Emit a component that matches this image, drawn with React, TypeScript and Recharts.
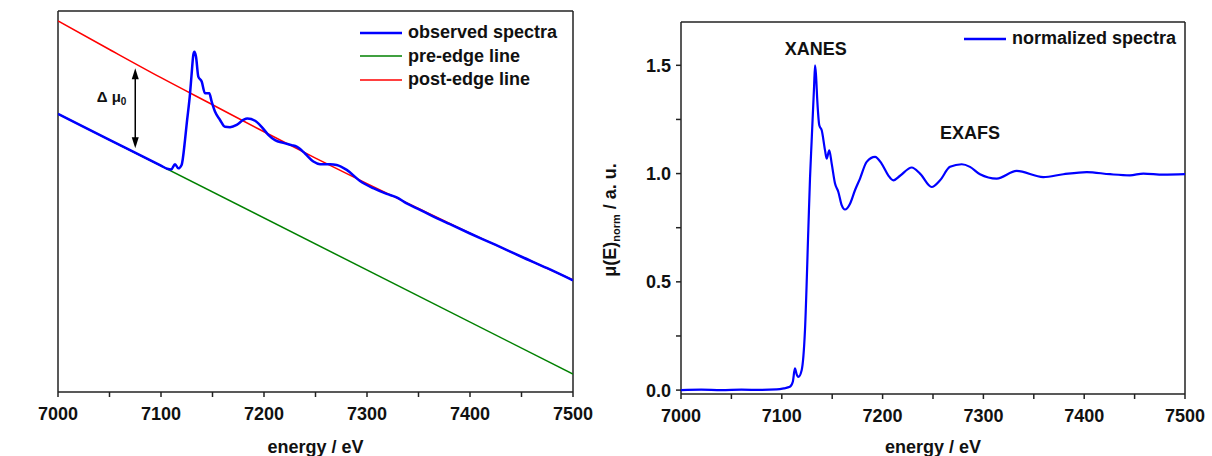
import React from 'react';
import {
  LineChart,
  Line,
  XAxis,
  YAxis,
  Legend,
  Label,
  ReferenceLine,
  ReferenceDot
} from 'recharts';

const FONT = '"Liberation Sans", Arial, Helvetica, sans-serif';
const INK = '#111';
const AXIS = '#222';

// left panel: raw spectrum with pre-/post-edge fits (arbitrary units)
const observedEnergy = [
  7000, 7050, 7100, 7106, 7110, 7113.6, 7116.8, 7120, 7123.3, 7125, 7128.2, 7129.6, 7131.4,
  7132.4, 7134, 7136.2, 7139.5, 7142.7, 7146.9, 7149.2, 7152.4, 7157.3, 7162.1, 7167,
  7173.5, 7179.9, 7183.8, 7191.3, 7197.7, 7204.2, 7210.7, 7218.8, 7226.9, 7231.7, 7239.8,
  7247.9, 7254.4, 7264.1, 7270.6, 7280.3, 7293.2, 7306.1, 7319.1, 7328.8, 7338.5, 7351.5,
  7361.2, 7380, 7400, 7425, 7450, 7475, 7500
];
const observedMu = [
  0.730, 0.662, 0.594, 0.586, 0.584, 0.598, 0.587, 0.596, 0.661, 0.705, 0.784, 0.830, 0.885,
  0.893, 0.880, 0.828, 0.815, 0.784, 0.784, 0.762, 0.736, 0.714, 0.696, 0.695,
  0.701, 0.714, 0.718, 0.712, 0.696, 0.675, 0.661, 0.654, 0.648, 0.644, 0.626,
  0.605, 0.598, 0.598, 0.596, 0.583, 0.554, 0.535, 0.520, 0.511, 0.495, 0.478,
  0.465, 0.441, 0.416, 0.386, 0.355, 0.325, 0.293
];
const preEdgeEnergy = [7000, 7500];
const preEdgeMu = [0.730, 0.047];
const postEdgeEnergy = [7000, 7050, 7100, 7150, 7200, 7250, 7300, 7350, 7400, 7450, 7500];
const postEdgeMu = [0.974, 0.899, 0.825, 0.754, 0.683, 0.614, 0.547, 0.482, 0.417, 0.355, 0.294];

// edge-step arrow
const stepEnergy = 7075;
const stepLow = 0.64;
const stepHigh = 0.85;

// right panel: normalized spectrum
const normEnergy = [
  7000, 7020, 7040, 7060, 7080, 7095, 7102, 7108, 7111, 7113, 7115, 7116.4, 7119.7, 7123,
  7126.3, 7128, 7129.6, 7132, 7133, 7134, 7135.2, 7137.2, 7139.6, 7142.9, 7144.5, 7147.1,
  7149.5, 7152.8, 7156.1, 7159.4, 7162.7, 7167.7, 7172.6, 7177.6, 7184.2, 7192.5, 7199,
  7205.6, 7210.7, 7217.3, 7228.9, 7237.1, 7248.7, 7257, 7266.9, 7278.5, 7286.7, 7296.6,
  7313.2, 7333, 7359.4, 7379.3, 7402.5, 7425.6, 7445.4, 7458.7, 7478.6, 7500
];
const normMu = [
  0.000, 0.002, 0.000, 0.002, 0.001, 0.003, 0.008, 0.015, 0.040, 0.100, 0.070, 0.061, 0.092, 0.277,
  0.738, 0.980, 1.150, 1.400, 1.500, 1.450, 1.338, 1.223, 1.200, 1.107, 1.069, 1.107,
  1.046, 0.954, 0.915, 0.854, 0.834, 0.861, 0.923, 0.977, 1.054, 1.077, 1.046,
  0.992, 0.969, 0.990, 1.028, 1.000, 0.938, 0.969, 1.031, 1.043, 1.031, 0.997,
  0.977, 1.012, 0.984, 0.997, 1.007, 0.997, 0.992, 1.000, 0.995, 0.997
];

const energyDomain = [7000, 7500];
const rawDomain = [0, 1];
const normDomain = [-0.018, 1.7];
const energyTicks = [7000, 7050, 7100, 7150, 7200, 7250, 7300, 7350, 7400, 7450, 7500];
const normTicks = [0, 0.25, 0.5, 0.75, 1, 1.25, 1.5];

const leftLegend = [
  { name: 'observed spectra', color: '#0000ff', width: 2.5 },
  { name: 'pre-edge line', color: '#008000', width: 1.5 },
  { name: 'post-edge line', color: '#ff0000', width: 1.5 }
];
const rightLegend = [{ name: 'normalized spectra', color: '#0000ff', width: 2.5 }];

const toRows = (xs: number[], ys: number[]) => xs.map((e, i) => ({ e, mu: ys[i] }));

const observedRows = toRows(observedEnergy, observedMu);
const preEdgeRows = toRows(preEdgeEnergy, preEdgeMu);
const postEdgeRows = toRows(postEdgeEnergy, postEdgeMu);
const normRows = toRows(normEnergy, normMu);

const textStyle = { fontFamily: FONT, fontWeight: 'bold', fill: INK } as const;

const TICK_LEN = 5;
const TICK_GAP_X = 10;
const TICK_GAP_Y = 5;

const energyFmt = (v: number) => (v % 100 === 0 ? String(v) : '');
const normFmt = (v: number) => ((v * 2) % 1 === 0 ? v.toFixed(1) : '');

// tick mark + label drawn together (x,y arrive at the label anchor)
const EnergyTick = ({ x, y, payload }: any) => (
  <g>
    <line x1={x} y1={y - TICK_GAP_X - TICK_LEN} x2={x} y2={y - TICK_GAP_X} stroke={AXIS} strokeWidth={1.5} />
    <text x={x} y={y} dy="0.72em" textAnchor="middle" fontSize={18} style={textStyle}>
      {energyFmt(payload.value)}
    </text>
  </g>
);

const NormTick = ({ x, y, payload }: any) => (
  <g>
    <line x1={x + TICK_GAP_Y} y1={y} x2={x + TICK_GAP_Y + TICK_LEN} y2={y} stroke={AXIS} strokeWidth={1.5} />
    <text x={x} y={y} dy="0.36em" textAnchor="end" fontSize={18} style={textStyle}>
      {normFmt(payload.value)}
    </text>
  </g>
);

const LegendBox = ({ items }: { items: typeof leftLegend }) => (
  <div style={{ fontFamily: FONT, fontWeight: 'bold', fontSize: 18, lineHeight: '23.5px', color: INK }}>
    {items.map((it) => (
      <div key={it.name} style={{ display: 'flex', alignItems: 'center', whiteSpace: 'nowrap' }}>
        <svg width={42} height={4} style={{ marginRight: 6 }}>
          <line x1={0} y1={2} x2={42} y2={2} stroke={it.color} strokeWidth={it.width} />
        </svg>
        <span>{it.name}</span>
      </div>
    ))}
  </div>
);

const XTitle = ({ viewBox }: any) => (
  <text
    x={viewBox.x + viewBox.width / 2}
    y={viewBox.y + viewBox.height - 3}
    textAnchor="middle"
    fontSize={18}
    style={textStyle}
  >
    energy / eV
  </text>
);

// rotated y title, bx = baseline x inside the chart svg
const YTitle = ({ viewBox, bx, shift, sub }: any) => {
  const cy = viewBox.y + viewBox.height / 2 + shift;
  return (
    <text
      x={bx}
      y={cy}
      textAnchor="middle"
      fontSize={18}
      transform={`rotate(-90 ${bx} ${cy})`}
      style={textStyle}
    >
      μ(E)
      {sub ? (
        <>
          <tspan fontSize={11} dy={4}>{sub}</tspan>
          <tspan dy={-4}> / a. u.</tspan>
        </>
      ) : (
        ' / a. u.'
      )}
    </text>
  );
};

const StepArrow = ({ x1, y1, y2 }: any) => {
  const top = Math.min(y1, y2);
  const bot = Math.max(y1, y2);
  return (
    <g>
      <line x1={x1} y1={top + 8} x2={x1} y2={bot - 8} stroke="#000" strokeWidth={1.5} />
      <polygon points={`${x1},${top} ${x1 - 3.5},${top + 11} ${x1 + 3.5},${top + 11}`} fill="#000" />
      <polygon points={`${x1},${bot} ${x1 - 3.5},${bot - 11} ${x1 + 3.5},${bot - 11}`} fill="#000" />
    </g>
  );
};

// box around the plot area
const frame = (yDomain: number[]) => [
  <ReferenceLine key="fl" x={energyDomain[0]} stroke={AXIS} strokeWidth={1.5} ifOverflow="visible" />,
  <ReferenceLine key="fr" x={energyDomain[1]} stroke={AXIS} strokeWidth={1.5} ifOverflow="visible" />,
  <ReferenceLine key="fb" y={yDomain[0]} stroke={AXIS} strokeWidth={1.5} ifOverflow="visible" />,
  <ReferenceLine key="ft" y={yDomain[1]} stroke={AXIS} strokeWidth={1.5} ifOverflow="visible" />
];

export default function App() {
  return (
    <div style={{ position: 'absolute', left: 0, top: 0, width: 1212, height: 456, background: '#fff' }}>
      <div style={{ position: 'absolute', left: 0, top: 0 }}>
        <LineChart width={600} height={456} margin={{ top: 11, right: 27, bottom: 0, left: 58 }}>
          <XAxis
            type="number"
            dataKey="e"
            domain={energyDomain}
            allowDataOverflow
            ticks={energyTicks}
            interval={0}
            tick={<EnergyTick />}
            tickSize={TICK_LEN}
            tickMargin={TICK_GAP_X}
            axisLine={false}
            tickLine={false}
            height={64}
          >
            <Label content={<XTitle />} />
          </XAxis>
          <YAxis type="number" domain={rawDomain} allowDataOverflow width={0} tick={false} tickLine={false} axisLine={false}>
            <Label content={<YTitle bx={25} shift={11} />} />
          </YAxis>
          {frame(rawDomain)}
          <Legend
            layout="vertical"
            align="center"
            verticalAlign="middle"
            wrapperStyle={{ left: 360, top: 21, width: 230, height: 72 }}
            content={<LegendBox items={leftLegend} />}
          />
          <Line data={postEdgeRows} dataKey="mu" name="post-edge line" type="monotone" stroke="#ff0000" strokeWidth={1.5} dot={false} isAnimationActive={false} />
          <Line data={preEdgeRows} dataKey="mu" name="pre-edge line" type="linear" stroke="#008000" strokeWidth={1.5} dot={false} isAnimationActive={false} />
          <Line data={observedRows} dataKey="mu" name="observed spectra" type="monotone" stroke="#0000ff" strokeWidth={2.5} dot={false} isAnimationActive={false} />
          <ReferenceLine
            segment={[{ x: stepEnergy, y: stepLow }, { x: stepEnergy, y: stepHigh }]}
            shape={(p: any) => <StepArrow {...p} />}
          />
          <ReferenceDot
            x={7037.6}
            y={0.761}
            r={0}
            shape={(p: any) => (
              <text x={p.cx} y={p.cy} fontSize={15} style={textStyle}>
                Δ μ<tspan fontSize={10} dy={3}>0</tspan>
              </text>
            )}
          />
        </LineChart>
      </div>

      <div style={{ position: 'absolute', left: 590, top: 0 }}>
        <LineChart width={622} height={456} margin={{ top: 22, right: 27, bottom: 0, left: 31 }}>
          <XAxis
            type="number"
            dataKey="e"
            domain={energyDomain}
            allowDataOverflow
            ticks={energyTicks}
            interval={0}
            tick={<EnergyTick />}
            tickSize={TICK_LEN}
            tickMargin={TICK_GAP_X}
            axisLine={false}
            tickLine={false}
            height={62}
          >
            <Label content={<XTitle />} />
          </XAxis>
          <YAxis
            type="number"
            domain={normDomain}
            allowDataOverflow
            ticks={normTicks}
            interval={0}
            tick={<NormTick />}
            tickSize={TICK_LEN}
            tickMargin={TICK_GAP_Y}
            axisLine={false}
            tickLine={false}
            width={60}
          >
            <Label content={<YTitle bx={26} shift={12} sub="norm" />} />
          </YAxis>
          {frame(normDomain)}
          <Legend
            layout="vertical"
            align="center"
            verticalAlign="middle"
            wrapperStyle={{ left: 374, top: 27, width: 230, height: 24 }}
            content={<LegendBox items={rightLegend} />}
          />
          <Line data={normRows} dataKey="mu" name="normalized spectra" type="monotone" stroke="#0000ff" strokeWidth={2.2} dot={false} isAnimationActive={false} />
          <ReferenceDot
            x={7133.7}
            y={1.546}
            r={0}
            shape={(p: any) => (
              <text x={p.cx} y={p.cy} textAnchor="middle" fontSize={18} style={textStyle}>XANES</text>
            )}
          />
          <ReferenceDot
            x={7286.7}
            y={1.161}
            r={0}
            shape={(p: any) => (
              <text x={p.cx} y={p.cy} textAnchor="middle" fontSize={18} style={textStyle}>EXAFS</text>
            )}
          />
        </LineChart>
      </div>
    </div>
  );
}
